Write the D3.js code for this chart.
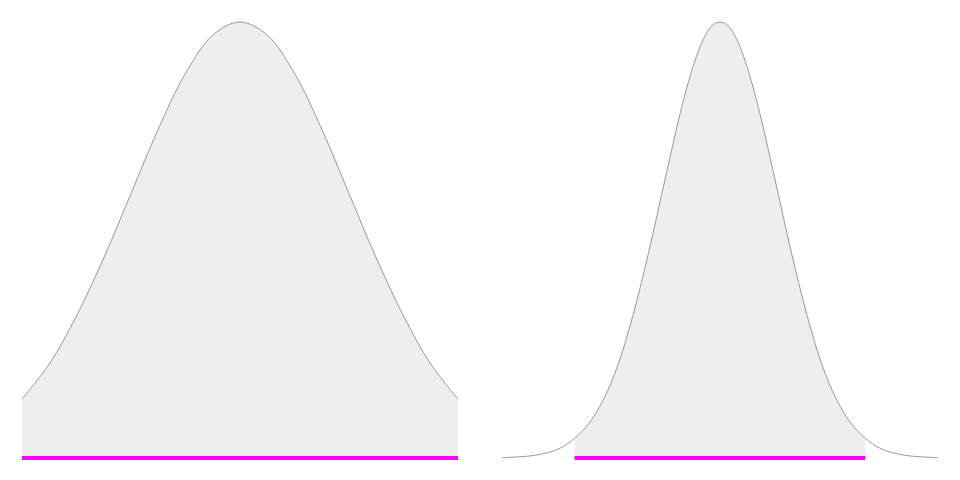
<!DOCTYPE html>
<html>
<head>
<meta charset="utf-8">
<script src="https://cdn.jsdelivr.net/npm/d3@7"></script>
<style>
  body { margin: 0; background: #fff; }
  svg { display: block; }
</style>
</head>
<body>
<svg id="chart" width="960" height="480"></svg>
<script>
// Left panel: curve over -2..2, everything shaded
const leftX = [-2, -1.75, -1.5, -1.25, -1, -0.75, -0.5, -0.25, 0, 0.25, 0.5, 0.75, 1, 1.25, 1.5, 1.75, 2]
const leftDensity = [0.054, 0.086, 0.130, 0.183, 0.242, 0.301, 0.352, 0.387, 0.399, 0.387, 0.352, 0.301, 0.242, 0.183, 0.130, 0.086, 0.054]
const leftBand = [-2, 2]

// Right panel: curve over -3.75..3.75, shaded between -2.5 and 2.5
const rightX = [-3.75, -3.5, -3.25, -3, -2.75, -2.5, -2.25, -2, -1.75, -1.5, -1.25, -1, -0.75, -0.625, -0.5, -0.375, -0.25, -0.125, 0,
  0.125, 0.25, 0.375, 0.5, 0.625, 0.75, 1, 1.25, 1.5, 1.75, 2, 2.25, 2.5, 2.75, 3, 3.25, 3.5, 3.75]
const rightDensity = [0.0004, 0.0009, 0.002, 0.0044, 0.009, 0.018, 0.032, 0.054, 0.086, 0.130, 0.183, 0.242, 0.301, 0.328, 0.352, 0.372, 0.387, 0.396, 0.399,
  0.396, 0.387, 0.372, 0.352, 0.328, 0.301, 0.242, 0.183, 0.130, 0.086, 0.054, 0.032, 0.018, 0.009, 0.0044, 0.002, 0.0009, 0.0004]
const rightBand = [-2.5, 2.5]

const svg = d3.select('#chart')
const baseY = 458
const y = d3.scaleLinear().domain([0, 0.399]).range([baseY, 22])

function drawPanel (xs, ds, band, left, right) {
  const x = d3.scaleLinear().domain(d3.extent(xs)).range([left, right])
  const pts = xs.map((v, i) => ({ x: v, d: ds[i] }))
  const shaded = pts.filter((p) => p.x >= band[0] - 1e-9 && p.x <= band[1] + 1e-9)

  const g = svg.append('g')

  g.append('path')
    .datum(shaded)
    .attr('fill', '#eeeeee')
    .attr('d', d3.area()
      .curve(d3.curveCatmullRom)
      .x((p) => x(p.x))
      .y0(baseY)
      .y1((p) => y(p.d)))

  g.append('path')
    .datum(pts)
    .attr('fill', 'none')
    .attr('stroke', '#999')
    .attr('stroke-width', 1)
    .attr('d', d3.line()
      .curve(d3.curveCatmullRom)
      .x((p) => x(p.x))
      .y((p) => y(p.d)))

  g.append('line')
    .attr('x1', x(band[0]))
    .attr('x2', x(band[1]))
    .attr('y1', baseY)
    .attr('y2', baseY)
    .attr('stroke', '#ff00ff')
    .attr('stroke-width', 4)
}

drawPanel(leftX, leftDensity, leftBand, 22, 458)
drawPanel(rightX, rightDensity, rightBand, 502, 938)
</script>
</body>
</html>
